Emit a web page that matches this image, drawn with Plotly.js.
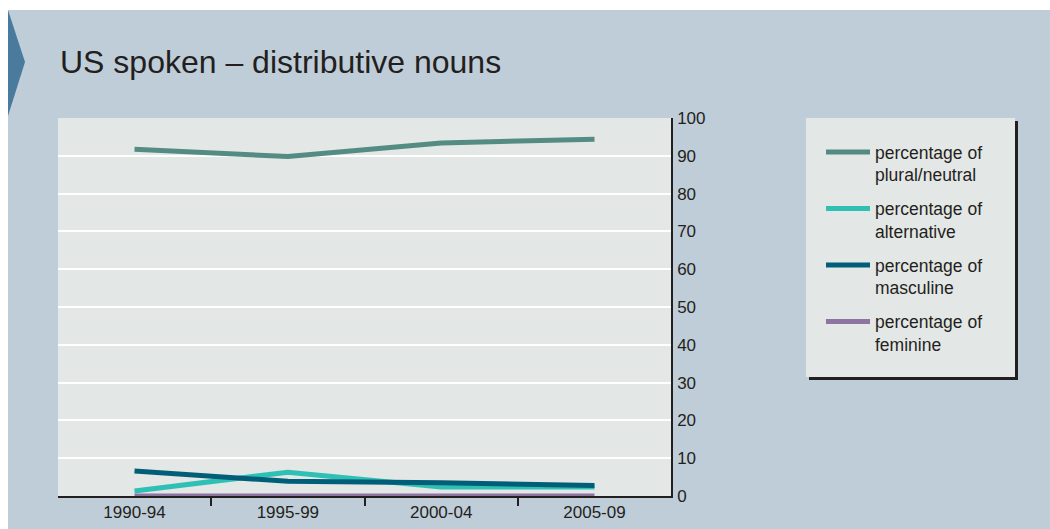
<!DOCTYPE html>
<html>
<head>
<meta charset="utf-8">
<script src="https://cdn.plot.ly/plotly-3.0.1.min.js"></script>
<style>
html,body{margin:0;padding:0;background:#fff;}
#chart{width:1050px;height:529px;}
</style>
</head>
<body>
<div id="chart"></div>
<script>
const periods = ["1990-94", "1995-99", "2000-04", "2005-09"];
const pluralNeutral = [91.7, 89.8, 93.4, 94.4];
const alternative = [1.3, 6.3, 2.4, 2.4];
const masculine = [6.6, 3.9, 3.5, 2.8];
const feminine = [0, 0, 0, 0];
const seriesNames = [
  "percentage of<br>plural/neutral",
  "percentage of<br>alternative",
  "percentage of<br>masculine",
  "percentage of<br>feminine"
];
const seriesColors = ["#548C84", "#2EC0B5", "#005E78", "#8E74A0"];
const seriesValues = [pluralNeutral, alternative, masculine, feminine];
const yTicks = [0, 10, 20, 30, 40, 50, 60, 70, 80, 90, 100];

const W = 1050, H = 529;
const L = 58, R = 379, T = 118, B = 33;
const pw = W - L - R, ph = H - T - B;
const px = x => (x - L) / pw;
const py = y => (H - B - y) / ph;

const traces = seriesValues.map((vals, i) => ({
  type: "scatter",
  mode: "lines",
  x: periods,
  y: vals,
  name: seriesNames[i],
  legendgroup: "g" + i,
  line: {color: seriesColors[i], width: 5},
  hoverinfo: "x+y+name"
}));

const font = "Liberation Sans, Arial, sans-serif";
const textColor = "#231F20";

const layout = {
  width: W, height: H,
  margin: {l: L, r: R, t: T, b: B, pad: 0},
  paper_bgcolor: "#ffffff",
  plot_bgcolor: "#E3E7E6",
  font: {family: font, color: textColor, size: 17},
  title: {
    text: "US spoken – distributive nouns",
    font: {family: font, size: 32, color: textColor},
    xref: "container", yref: "container",
    x: 60 / W, xanchor: "left",
    y: 1 - 62 / H, yanchor: "middle"
  },
  xaxis: {
    type: "category",
    range: [-0.499, 3.499],
    showgrid: false,
    showline: true,
    linecolor: textColor,
    linewidth: 1.5,
    ticks: "outside",
    tickson: "boundaries",
    ticklen: 8,
    tickcolor: textColor,
    tickwidth: 1.5,
    tickfont: {family: font, size: 17, color: textColor},
    zeroline: false,
    fixedrange: true
  },
  yaxis: {
    side: "right",
    range: [0, 100],
    tickvals: yTicks,
    ticktext: yTicks.map(String),
    showgrid: true,
    gridcolor: "#ffffff",
    gridwidth: 2,
    showline: true,
    linecolor: textColor,
    linewidth: 1.5,
    ticks: "",
    ticklabelstandoff: 1,
    tickfont: {family: font, size: 17, color: textColor},
    zeroline: false,
    fixedrange: true
  },
  showlegend: true,
  legend: {
    x: px(821), xanchor: "left",
    y: py(134), yanchor: "top",
    bgcolor: "rgba(0,0,0,0)",
    borderwidth: 0,
    valign: "top",
    itemwidth: 44,
    tracegroupgap: 8,
    font: {family: font, size: 17.5, color: textColor},
    itemclick: false, itemdoubleclick: false
  },
  shapes: [
    {type: "rect", xref: "paper", yref: "paper", layer: "below",
     x0: px(8), x1: px(1050), y0: py(10), y1: py(529),
     fillcolor: "#BFCDD8", line: {width: 0}},
    {type: "rect", xref: "paper", yref: "paper", layer: "below",
     x0: 0, x1: 1, y0: 0, y1: 1,
     fillcolor: "#E3E7E6", line: {width: 0}},
    {type: "path", xref: "paper", yref: "paper", layer: "below",
     path: `M ${px(8)} ${py(10)} L ${px(25)} ${py(62)} L ${px(8)} ${py(116)} Z`,
     fillcolor: "#4A7A9C", line: {width: 0}},
    {type: "rect", xref: "paper", yref: "paper", layer: "below",
     x0: px(809), x1: px(1018), y0: py(121), y1: py(380),
     fillcolor: "#231F20", line: {width: 0}},
    {type: "rect", xref: "paper", yref: "paper", layer: "below",
     x0: px(806), x1: px(1015), y0: py(118), y1: py(377),
     fillcolor: "#E3E7E6", line: {width: 0}}
  ]
};

Plotly.newPlot("chart", traces, layout, {displayModeBar: false});
</script>
</body>
</html>
